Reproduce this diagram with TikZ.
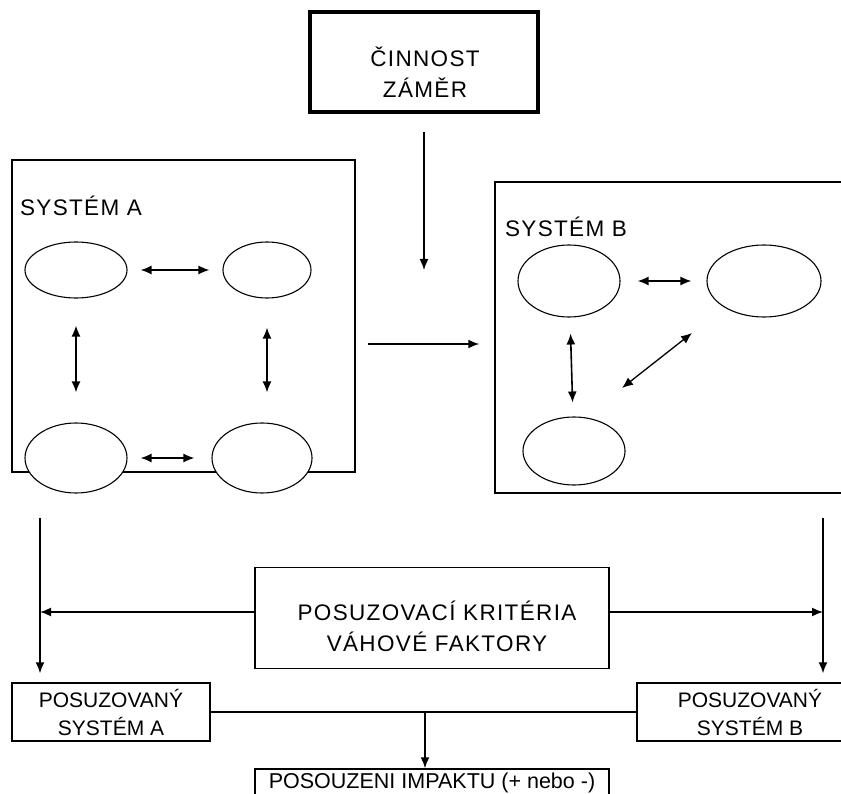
\documentclass[tikz,border=0pt]{standalone}
\usepackage{fontspec}
\setmainfont{Liberation Sans}
\newfontfamily\widefont{Liberation Sans}[LetterSpace=6]
\usetikzlibrary{arrows.meta,shapes}

\begin{document}
\begin{tikzpicture}[x=1pt,y=-1pt,>={Latex[length=11pt,width=9pt]},line width=1.5pt]

	\tikzstyle{box}=[rectangle,draw=black,fill=white,inner sep=0pt,align=center]
	\tikzstyle{sub}=[ellipse,draw=black,fill=white,line width=1.1pt,inner sep=0pt]
	\tikzstyle{wide}=[font=\widefont\fontsize{22.5}{31}\selectfont,align=center]
	\tikzstyle{narrow}=[font=\fontsize{21}{28}\selectfont]
	\tikzstyle{link}=[<->,line width=1.6pt]

	\clip (0,0) rectangle (841,794);

	% zamer nahore
	\node [box,line width=3.4pt,minimum width=228pt,minimum height=100pt] (cin) at (424,62) {};
	\node [wide] (cinText) at (425,72) {ČINNOST\\ZÁMĚR};
	\coordinate (cz) at (425,270);
	\draw [->,line width=1.6pt,shorten <=18pt] (cin) -- (cin.south |- cz);

	% system A
	\node [box,minimum width=343pt,minimum height=312pt] (sysA) at (183.5,316) {};
	\node [wide,anchor=west] (labA) at (16,206) {SYSTÉM A};
	\node [sub,minimum width=102pt,minimum height=56pt] (a1) at (76,270) {};
	\node [sub,minimum width=88pt,minimum height=56pt] (a2) at (267,270) {};
	\node [sub,minimum width=102pt,minimum height=70pt] (a3) at (76,458) {};
	\node [sub,minimum width=100pt,minimum height=70pt] (a4) at (262,458) {};
	\draw [link,shorten <=13pt,shorten >=13pt] (a1) -- (a2);
	\draw [link,shorten <=27pt,shorten >=30pt] (a1) -- (a3);
	\draw [link,shorten <=29pt,shorten >=30pt] (a2) -- (a2 |- a4.north);
	\draw [link,shorten <=13pt,shorten >=17pt] (a3) -- (a4);

	% system B
	\node [box,minimum width=360pt,minimum height=311pt] (sysB) at (675,337.5) {};
	\node [wide,anchor=west] (labB) at (501,227) {SYSTÉM B};
	\node [sub,minimum width=102pt,minimum height=72pt] (b1) at (569,281) {};
	\node [sub,minimum width=114pt,minimum height=72pt] (b2) at (764,281) {};
	\node [sub,minimum width=102pt,minimum height=68pt] (b3) at (574,451) {};
	\draw [link,shorten <=17pt,shorten >=15pt] (b1) -- (b2);
	\draw [link,shorten <=16pt,shorten >=14pt] (b1) -- (b3);
	\coordinate (d1) at (622,388);
	\coordinate (d2) at (692,333);
	\draw [link,line width=1.3pt] (d1) -- (d2);

	\coordinate (ab) at (368,344);
	\draw [->,line width=1.6pt,shorten >=15pt] (ab) -- (ab -| sysB.west);

	% posuzovani
	\node [box,minimum width=354pt,minimum height=101pt] (krit) at (432,618) {};
	\node [wide] (kritText) at (437,626) {POSUZOVACÍ KRITÉRIA\\VÁHOVÉ FAKTORY};
	\node [box,narrow,minimum width=198pt,minimum height=58pt] (posA) at (111,712) {POSUZOVANÝ\\SYSTÉM A};
	\node [box,narrow,minimum width=226pt,minimum height=58pt] (posB) at (750,712) {POSUZOVANÝ\\SYSTÉM B};
	\node [box,font=\fontsize{21.5}{25}\selectfont,minimum width=354pt,minimum height=28pt] (imp) at (432,783) {POSOUZENI IMPAKTU (+ nebo -)};

	\coordinate (tl) at (40,518);
	\coordinate (tr) at (823,518);
	\coordinate (kr) at (432,612);
	\draw [->,shorten >=9pt] (tl) -- (tl |- posA.north);
	\draw [->,shorten >=9pt] (tr) -- (tr |- posB.north);
	\draw [->,line width=1.6pt] (krit.west |- kr) -- (tl |- kr);
	\draw [->,line width=1.6pt] (krit.east |- kr) -- (tr |- kr);

	\draw [line width=1.6pt] (posA) -- (posB);
	\coordinate (j) at (425,712);
	\draw [->] (j) -- (j |- imp.north);
\end{tikzpicture}
\end{document}
